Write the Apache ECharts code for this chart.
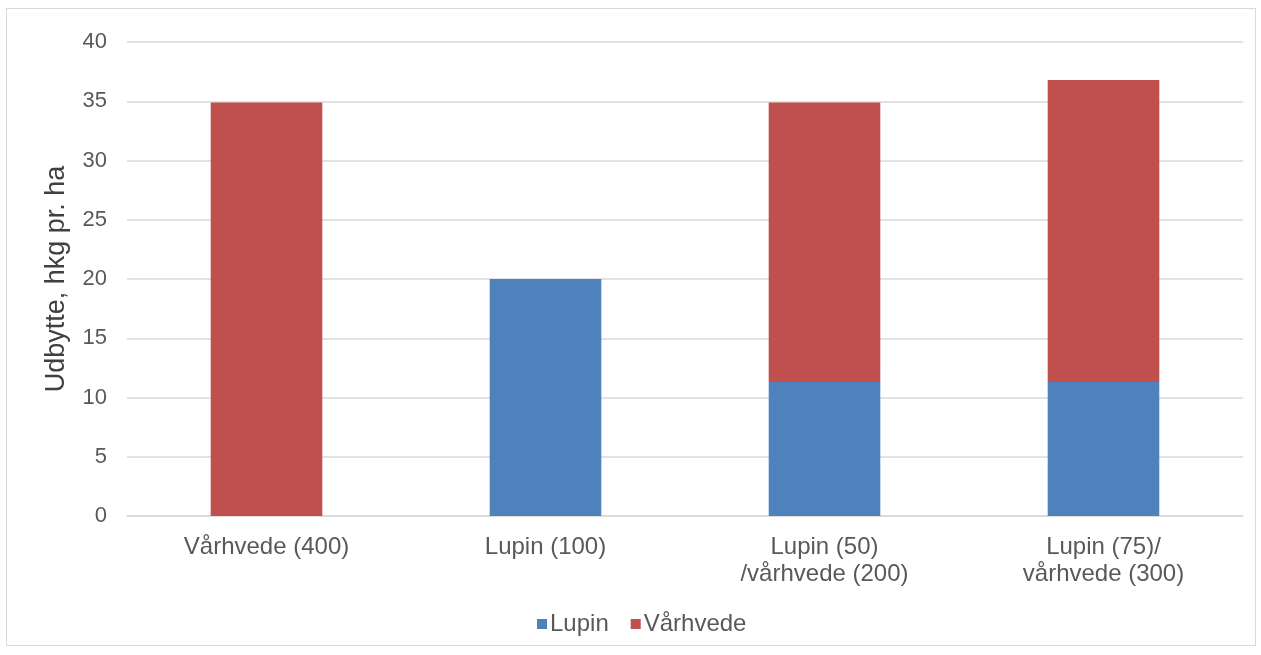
<!DOCTYPE html>
<html>
<head>
<meta charset="utf-8">
<script src="https://cdn.jsdelivr.net/npm/echarts@6/dist/echarts.min.js"></script>
<style>
html,body{margin:0;padding:0;background:#fff;}
#frame{position:absolute;left:6px;top:8px;width:1250px;height:638px;border:1px solid #d9d9d9;box-sizing:border-box;}
#c{position:absolute;left:0;top:0;width:1261px;height:655px;}
</style>
</head>
<body>
<div id="frame"></div>
<div id="c"></div>
<script>
const categories = ['Vårhvede (400)', 'Lupin (100)', 'Lupin (50)\n/vårhvede (200)', 'Lupin (75)/\nvårhvede (300)'];
const lupin = [0, 20, 11.3, 11.3];
const vaarhvede = [34.9, 0, 23.6, 25.5];
const yTicks = [0, 5, 10, 15, 20, 25, 30, 35, 40];

const chart = echarts.init(document.getElementById('c'));
const font = 'Liberation Sans, Arial, sans-serif';
chart.setOption({
  animation: false,
  textStyle: {fontFamily: font},
  grid: {left: 127, right: 18, top: 42, bottom: 139, containLabel: false},
  legend: {
    data: ['Lupin', 'Vårhvede'],
    bottom: 14,
    left: 532,
    itemWidth: 10,
    itemHeight: 10,
    itemGap: 22,
    icon: 'rect',
    textStyle: {fontSize: 24, color: '#595959', fontFamily: font, padding: [0, 0, 0, -2]}
  },
  xAxis: {
    type: 'category',
    data: categories,
    axisLine: {show: true, lineStyle: {color: '#d9d9d9', width: 1.5}},
    axisTick: {show: false},
    axisLabel: {fontSize: 24, color: '#595959', fontFamily: font, margin: 18, lineHeight: 27, interval: 0}
  },
  yAxis: {
    type: 'value',
    min: yTicks[0],
    max: yTicks[yTicks.length - 1],
    interval: 5,
    name: 'Udbytte, hkg pr. ha',
    nameLocation: 'middle',
    nameGap: 57,
    nameTextStyle: {fontSize: 27, color: '#404040', fontFamily: font, padding: [0, 0, 0, 0]},
    axisLine: {show: false},
    axisTick: {show: false},
    splitLine: {lineStyle: {color: '#d9d9d9', width: 1.5}},
    axisLabel: {fontSize: 22, color: '#595959', fontFamily: font, margin: 20}
  },
  series: [
    {name: 'Lupin', type: 'bar', stack: 'total', barWidth: '40%', data: lupin, itemStyle: {color: '#4F81BD'}},
    {name: 'Vårhvede', type: 'bar', stack: 'total', barWidth: '40%', data: vaarhvede, itemStyle: {color: '#C0504D'}}
  ]
});
</script>
</body>
</html>
